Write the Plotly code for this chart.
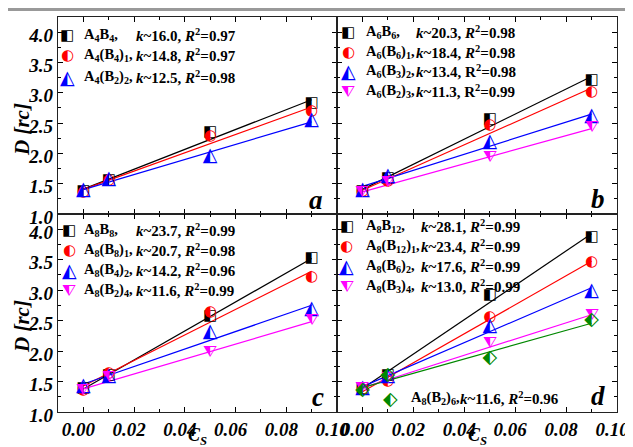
import numpy as np
import plotly.graph_objects as go
from plotly.subplots import make_subplots

# ---------------- data ----------------
cs = [0.0, 0.01, 0.05, 0.09]

# panel a
a_names = ["A<sub>4</sub>B<sub>4</sub>,", "A<sub>4</sub>(B<sub>4</sub>)<sub>1</sub>,", "A<sub>4</sub>(B<sub>2</sub>)<sub>2</sub>,"]
a_k = ["16.0", "14.8", "12.5"]
a_r2 = ["0.97", "0.97", "0.98"]
a_vals = [
    [1.37, 1.56, 2.35, 2.82],
    [1.36, 1.55, 2.28, 2.70],
    [1.39, 1.57, 1.96, 2.55],
]

# panel b
b_names = ["A<sub>6</sub>B<sub>6</sub>,", "A<sub>6</sub>(B<sub>6</sub>)<sub>1</sub>,", "A<sub>6</sub>(B<sub>3</sub>)<sub>2</sub>,", "A<sub>6</sub>(B<sub>2</sub>)<sub>3</sub>,"]
b_k = ["20.3", "18.4", "13.4", "11.3"]
b_r2 = ["0.98", "0.98", "0.98", "0.99"]
b_vals = [
    [1.37, 1.59, 2.57, 3.20],
    [1.37, 1.54, 2.46, 3.01],
    [1.40, 1.62, 2.18, 2.61],
    [1.35, 1.51, 1.92, 2.42],
]

# panel c
c_names = ["A<sub>8</sub>B<sub>8</sub>,", "A<sub>8</sub>(B<sub>8</sub>)<sub>1</sub>,", "A<sub>8</sub>(B<sub>4</sub>)<sub>2</sub>,", "A<sub>8</sub>(B<sub>2</sub>)<sub>4</sub>,"]
c_k = ["23.7", "20.7", "14.2", "11.6"]
c_r2 = ["0.99", "0.98", "0.96", "0.99"]
c_vals = [
    [1.39, 1.60, 2.57, 3.52],
    [1.36, 1.63, 2.64, 3.22],
    [1.42, 1.58, 2.31, 2.68],
    [1.34, 1.56, 1.97, 2.49],
]

# panel d
d_names = ["A<sub>8</sub>B<sub>12</sub>,", "A<sub>8</sub>(B<sub>12</sub>)<sub>1</sub>,", "A<sub>8</sub>(B<sub>6</sub>)<sub>2</sub>,", "A<sub>8</sub>(B<sub>3</sub>)<sub>4</sub>,", "A<sub>8</sub>(B<sub>2</sub>)<sub>6</sub>,"]
d_k = ["28.1", "23.4", "17.6", "13.0", "11.6"]
d_r2 = ["0.99", "0.99", "0.99", "0.99", "0.96"]
d_vals = [
    [1.39, 1.61, 2.91, 3.87],
    [1.37, 1.51, 2.56, 3.46],
    [1.39, 1.58, 2.41, 2.99],
    [1.37, 1.54, 2.11, 2.57],
    [1.36, 1.61, 1.89, 2.50],
]

x_ticks = [0.00, 0.02, 0.04, 0.06, 0.08, 0.10]
y_ticks = [1.0, 1.5, 2.0, 2.5, 3.0, 3.5, 4.0]

# ---------------- style ----------------
colors = ["#000000", "#ff0000", "#0000ff", "#ff00ff", "#008800"]
glyphs = ["\u25E7", "\u25D0", "\u25ED", "\u29E8", "\u2B16"]
gsize = [15, 15, 19, 16, 19]
SERIF = "Liberation Serif, Times New Roman, serif"
GLYPH_FONT = "DejaVu Sans"
LEG_NAME = 14.5
LEG_STAT = 15
OFF = 8  # page offset of the figure inside the browser window

W, H = 633, 447
# plot frame in window pixels: x 58..617, y 17..412
ML, MT = 58 - OFF, 17 - OFF
MR, MB = W - (617 - OFF), H - (412 - OFF)
PW = W - ML - MR
PH = H - MT - MB
XSPLIT = 337 - OFF
YSPLIT = 214 - OFF

fig = make_subplots(rows=2, cols=2, horizontal_spacing=0, vertical_spacing=0)
xs = (XSPLIT - ML) / PW
ys = (H - MB - YSPLIT) / PH
doms_x = {1: [0, xs], 2: [xs, 1]}
doms_y = {1: [ys, 1], 2: [0, ys]}

panels = [
    (1, 1, a_vals, a_names, a_k, a_r2, "a"),
    (1, 2, b_vals, b_names, b_k, b_r2, "b"),
    (2, 1, c_vals, c_names, c_k, c_r2, "c"),
    (2, 2, d_vals, d_names, d_k, d_r2, "d"),
]

xfit = np.array([min(cs), max(cs)])
for (r, c, vals, names, ks, r2s, lab) in panels:
    for i, v in enumerate(vals):
        slope, icpt = np.polyfit(cs, v, 1)
        fig.add_trace(go.Scatter(x=xfit, y=slope * xfit + icpt, mode="lines",
                                 line=dict(color=colors[i], width=1.2),
                                 showlegend=False, hoverinfo="skip"), row=r, col=c)
    for i, v in enumerate(vals):
        fig.add_trace(go.Scatter(x=cs, y=v, mode="text", text=[glyphs[i]] * len(cs),
                                 textposition="middle center",
                                 textfont=dict(family=GLYPH_FONT, size=gsize[i], color=colors[i]),
                                 showlegend=False), row=r, col=c)

tickfont = dict(family=SERIF, size=19, color="black")
for r in (1, 2):
    for c in (1, 2):
        fig.update_xaxes(row=r, col=c, range=[-0.01, 0.10], tickvals=x_ticks,
                         ticktext=[f"<b><i>{t:.2f}</i></b>" for t in x_ticks],
                         showticklabels=(r == 2), ticks="inside", ticklen=5, tickwidth=1,
                         tickcolor="black", showline=True, linecolor="#222", linewidth=1.2,
                         mirror="ticks", showgrid=False, zeroline=False, automargin=False,
                         minor=dict(ticks="inside", ticklen=3, dtick=0.01, tickcolor="black"),
                         tickfont=tickfont, ticklabelshift=-5, domain=doms_x[c])
        fig.update_yaxes(row=r, col=c, range=[1.0, 4.25], tickvals=y_ticks,
                         ticktext=[f"<b><i>{t:.1f}</i></b>" for t in y_ticks],
                         showticklabels=(c == 1), ticks="inside", ticklen=5, tickwidth=1,
                         tickcolor="black", showline=True, linecolor="#222", linewidth=1.2,
                         mirror="ticks", showgrid=False, zeroline=False, automargin=False,
                         minor=dict(ticks="inside", ticklen=3, dtick=0.25, tickcolor="black"),
                         tickfont=tickfont, ticklabelshift=3, domain=doms_y[r])

# ---------- annotations (legends, labels) ----------
def px2paper(px, py):
    # px, py are window pixel positions
    return (px - OFF - ML) / PW, (H - MB - (py - OFF)) / PH

ann = []
def add_text(px, py, text, size=LEG_STAT, xanchor="left", font=SERIF, color="black"):
    x, y = px2paper(px, py)
    ann.append(dict(x=x, y=y, xref="paper", yref="paper", text=text, showarrow=False,
                    xanchor=xanchor, yanchor="middle", borderpad=0,
                    font=dict(family=font, size=size, color=color)))

legend_layout = {
    "a": dict(mx=67, tx=83, kx=135, y0=34.5, dy=21),
    "b": dict(mx=348, tx=365, kx=415, y0=32.5, dy=19.5),
    "c": dict(mx=69, tx=83, kx=135, y0=229.5, dy=20.2),
    "d": dict(mx=347, tx=365, kx=420, y0=226, dy=20),
}
for (r, c, vals, names, ks, r2s, lab) in panels:
    L = legend_layout[lab]
    n = len(names) if lab != "d" else 4
    for i in range(n):
        yy = L["y0"] + i * L["dy"]
        add_text(L["mx"], yy, glyphs[i], size=gsize[i], xanchor="center", font=GLYPH_FONT, color=colors[i])
        add_text(L["tx"], yy, f"<b>{names[i]}</b>", size=LEG_NAME)
        rr = "R" if (lab == "b" and i >= 2) else "<i>R</i>"
        add_text(L["kx"], yy, f"<b><i>k</i>~{ks[i]}, {rr}<sup>2</sup>={r2s[i]}</b>")
    if lab == "d":
        i = 4
        add_text(390, 398, glyphs[i], size=gsize[i], xanchor="center", font=GLYPH_FONT, color=colors[i])
        add_text(410, 398, f"<b>{names[i]}</b>", size=LEG_NAME)
        add_text(459, 398, f"<b><i>k</i>~{ks[i]}, <i>R</i><sup>2</sup>={r2s[i]}</b>")

# panel letters
for lab, (px, py) in {"a": (316, 200), "b": (598, 199), "c": (318, 397), "d": (598, 396)}.items():
    add_text(px, py, f"<b><i>{lab}</i></b>", size=27, xanchor="center")

# axis titles
for py in (130, 327):
    x, y = px2paper(22, py)
    ann.append(dict(x=x, y=y, xref="paper", yref="paper", text="<b><i>D [rc]</i></b>",
                    showarrow=False, textangle=-90, xanchor="center", yanchor="middle",
                    font=dict(family=SERIF, size=21, color="black")))
for px in (197, 477):
    add_text(px, 437, "<b><i>C<sub>S</sub></i></b>", size=18, xanchor="center")

# top grey bar (as high on the page as the figure allows)
x0, y0 = px2paper(6, 11)
x1, y1 = px2paper(640, 6)
fig.add_shape(type="rect", xref="paper", yref="paper", x0=x0, x1=x1, y0=y0, y1=y1,
              fillcolor="#999999", line=dict(width=0), layer="below")

fig.update_layout(template="none", width=W, height=H,
                  margin=dict(l=ML, r=MR, t=MT, b=MB, autoexpand=False),
                  plot_bgcolor="white", paper_bgcolor="white", annotations=ann,
                  showlegend=False, font=dict(family=SERIF))

fig.write_html("out.html")
